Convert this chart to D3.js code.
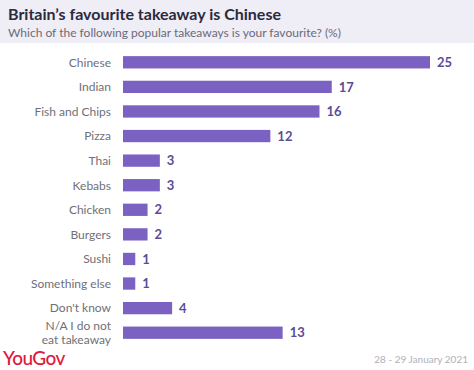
<!DOCTYPE html>
<html><head><meta charset="utf-8">
<script src="https://cdn.jsdelivr.net/npm/d3@7"></script>
<style>body{margin:0;background:#fff;} svg{display:block;}</style>
</head><body>
<script>
const categories = ["Chinese","Indian","Fish and Chips","Pizza","Thai","Kebabs","Chicken","Burgers","Sushi","Something else","Don't know","N/A I do not eat takeaway"];
const values = [25,17,16,12,3,3,2,2,1,1,4,13];
const title = "Britain\u2019s favourite takeaway is Chinese";
const subtitle = "Which of the following popular takeaways is your favourite? (%)";
const dateText = "28 - 29 January 2021";

const W = 474, H = 370;
const font = "Lato, 'Open Sans', sans-serif";
const svg = d3.select("body").append("svg").attr("width", W).attr("height", H);

svg.append("rect").attr("x",0).attr("y",0).attr("width",W).attr("height",43).attr("fill","#efedf6");
svg.append("text").attr("x",8).attr("y",20).text(title)
  .attr("font-family",font).attr("font-weight",700).attr("font-size",16).attr("fill","#2a2a3c");
svg.append("text").attr("x",8).attr("y",36.5).text(subtitle)
  .attr("font-family",font).attr("font-size",12).attr("fill","#6b6b78");

const x = d3.scaleLinear().domain([0,25]).range([123,430]);
const y = d3.scaleBand().domain(categories).range([50,345]).paddingInner(0.5).paddingOuter(0.25);

const g = svg.append("g");
g.selectAll("rect.bar").data(categories).join("rect").attr("class","bar")
  .attr("x",x(0)).attr("y",d=>y(d)).attr("height",y.bandwidth())
  .attr("width",(d,i)=>x(values[i])-x(0)).attr("fill","#7b61c2");

g.selectAll("text.val").data(categories).join("text").attr("class","val")
  .attr("x",(d,i)=>x(values[i])+7).attr("y",d=>y(d)+y.bandwidth()/2).attr("dy","0.36em")
  .text((d,i)=>values[i]).attr("font-family",font).attr("font-weight",700)
  .attr("font-size",13).attr("fill","#5a4c98");

categories.forEach((c,i)=>{
  const cy = y(c)+y.bandwidth()/2;
  const t = g.append("text").attr("x",111).attr("text-anchor","end")
    .attr("font-family",font).attr("font-size",12).attr("fill","#707078");
  if (c === "N/A I do not eat takeaway") {
    t.append("tspan").attr("x",111).attr("y",cy-3).text("N/A I do not");
    t.append("tspan").attr("x",111).attr("y",cy+11).text("eat takeaway");
  } else {
    t.attr("y",cy).attr("dy","0.36em").text(c);
  }
});

svg.append("text").attr("x",3).attr("y",365).text("YouGov")
  .attr("font-family",font).attr("font-size",19).attr("font-weight",500)
  .attr("letter-spacing",-0.6).attr("fill","#e0183c");
svg.append("text").attr("x",468).attr("y",363).attr("text-anchor","end").text(dateText)
  .attr("font-family",font).attr("font-size",10).attr("fill","#b0b0b8");
</script>
</body></html>
